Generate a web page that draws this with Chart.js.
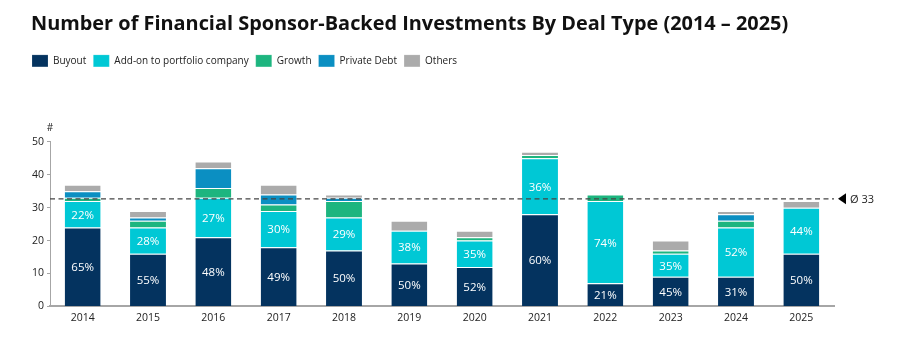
<!DOCTYPE html>
<html>
<head>
<meta charset="utf-8">
<script src="https://cdn.jsdelivr.net/npm/chart.js@4.4.1/dist/chart.umd.min.js"></script>
<style>
html,body{margin:0;padding:0;background:#fff;}
#wrap{width:900px;height:347px;position:relative;}
</style>
</head>
<body>
<div id="wrap"><canvas id="c" width="900" height="347"></canvas></div>
<script>
const years = ['2014','2015','2016','2017','2018','2019','2020','2021','2022','2023','2024','2025'];
const buyout = [24,16,21,18,17,13,12,28,7,9,9,16];
const addon = [8,8,12,11,10,10,8,17,25,7,15,14];
const growth = [1,2,3,2,5,0,1,1,2,1,2,0];
const privateDebt = [2,1,6,3,1,0,0,0,0,0,2,0];
const others = [2,2,2,3,1,3,2,1,0,3,1,2];
const buyoutPct = ['65%','55%','48%','49%','50%','50%','52%','60%','21%','45%','31%','50%'];
const addonPct = ['22%','28%','27%','30%','29%','38%','35%','36%','74%','35%','52%','44%'];
const yTicks = [0,10,20,30,40,50];
const averageValue = 32.7;
const averageLabel = 'Ø 33';
const titleText = 'Number of Financial Sponsor-Backed Investments By Deal Type (2014 – 2025)';

const FONT = "'Open Sans', 'Noto Sans', sans-serif";
const colors = {
  buyout:'#04335f', addon:'#00c8d5', growth:'#1db57f', pd:'#0b8fc2', others:'#ababab'
};

const labelPlugin = {
  id:'segLabels',
  afterDatasetsDraw(chart){
    const ctx = chart.ctx;
    ctx.save();
    ctx.fillStyle = '#ffffff';
    ctx.font = "11.5px " + FONT;
    ctx.textAlign = 'center';
    ctx.textBaseline = 'middle';
    [[0,buyoutPct],[1,addonPct]].forEach(([di,labels])=>{
      const meta = chart.getDatasetMeta(di);
      meta.data.forEach((el,i)=>{
        const p = el.getProps(['x','y','base'],true);
        ctx.fillText(labels[i], p.x, (p.y+p.base)/2 + 1);
      });
    });
    ctx.restore();
  }
};

const avgPlugin = {
  id:'avgLine',
  afterDatasetsDraw(chart){
    const ctx = chart.ctx, ca = chart.chartArea;
    const y = chart.scales.y.getPixelForValue(averageValue);
    ctx.save();
    ctx.strokeStyle = '#444';
    ctx.lineWidth = 1.2;
    ctx.setLineDash([5,3.5]);
    ctx.beginPath();
    ctx.moveTo(ca.left, y);
    ctx.lineTo(ca.right, y);
    ctx.stroke();
    ctx.setLineDash([]);
    ctx.fillStyle = '#000';
    ctx.beginPath();
    ctx.moveTo(ca.right+4, y);
    ctx.lineTo(ca.right+12, y-5.5);
    ctx.lineTo(ca.right+12, y+5.5);
    ctx.closePath();
    ctx.fill();
    ctx.fillStyle = '#222';
    ctx.font = "11px " + FONT;
    ctx.textAlign = 'left';
    ctx.textBaseline = 'middle';
    ctx.fillText(averageLabel, ca.right+16, y+1);
    ctx.textAlign = 'center';
    ctx.font = "10px " + FONT;
    ctx.fillText('#', ca.left, ca.top - 14);
    ctx.restore();
  }
};

const legendTweak = {
  id:'legendTweak',
  beforeInit(chart){
    const lg = chart.legend;
    if (lg) {
      const orig = lg.fit;
      lg.fit = function(){ orig.call(this); this.height += 65; };
    }
  },
  afterLayout(chart){
    if (chart.legend) chart.legend.left -= 6;
  }
};

const ds = (label, data, color) => ({
  label, data, backgroundColor: color, borderColor:'rgba(255,255,255,0.6)',
  borderWidth:{top:1}, borderSkipped:'bottom',
  barPercentage:0.55, categoryPercentage:1.0, stack:'s'
});

new Chart(document.getElementById('c'), {
  type:'bar',
  data:{
    labels: years,
    datasets:[
      ds('Buyout', buyout, colors.buyout),
      ds('Add-on to portfolio company', addon, colors.addon),
      ds('Growth', growth, colors.growth),
      ds('Private Debt', privateDebt, colors.pd),
      ds('Others', others, colors.others)
    ]
  },
  options:{
    responsive:false,
    animation:false,
    devicePixelRatio:1,
    layout:{padding:{left:31,right:66,top:8,bottom:18}},
    plugins:{
      title:{display:true, text:titleText, align:'start', color:'#111',
        font:{family:FONT, size:19.9, weight:'bold'}, padding:{top:4,bottom:12}},
      legend:{display:true, align:'start',
        labels:{boxWidth:16, boxHeight:12, padding:7, color:'#222',
          font:{family:FONT, size:10}},
        onClick:null},
      tooltip:{enabled:false}
    },
    scales:{
      x:{stacked:true,
        grid:{display:false, drawTicks:false},
        border:{display:true, color:'#a6a6a6', width:2},
        ticks:{color:'#222', font:{family:FONT, size:10.5}, padding:5}
      },
      y:{stacked:true, min:0, max:50,
        afterFit(s){ s.width = 19; },
        afterBuildTicks(s){ s.ticks = yTicks.map(v=>({value:v})); },
        grid:{drawOnChartArea:false, drawTicks:true, tickLength:3, color:'#a6a6a6'},
        border:{display:true, color:'#a6a6a6', width:1},
        ticks:{color:'#222', font:{family:FONT, size:10.5}, padding:3}
      }
    }
  },
  plugins:[legendTweak, labelPlugin, avgPlugin]
});
</script>
</body>
</html>
